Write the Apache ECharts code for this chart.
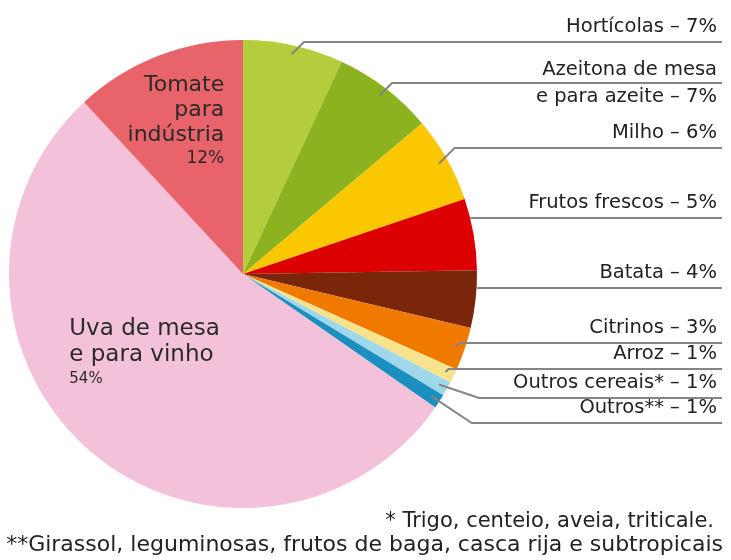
<!DOCTYPE html>
<html>
<head>
<meta charset="utf-8">
<script src="https://cdn.jsdelivr.net/npm/echarts@6/dist/echarts.min.js"></script>
<style>
  html, body { margin: 0; padding: 0; background: #fff; }
  #main { width: 731px; height: 560px; }
</style>
</head>
<body>
<div id="main"></div>
<script>
// culturas, pela ordem do gráfico (sentido horário a partir do topo)
var categories = ['Hortícolas', 'Azeitona de mesa e para azeite', 'Milho', 'Frutos frescos', 'Batata',
    'Citrinos', 'Arroz', 'Outros cereais*', 'Outros**', 'Uva de mesa e para vinho', 'Tomate para indústria'];
var values = [7, 7, 6, 5, 4, 3, 1, 1, 1, 54, 12];
var labelTexts = ['Hortícolas – 7%', 'Azeitona de mesa\ne para azeite – 7%', 'Milho – 6%', 'Frutos frescos – 5%',
    'Batata – 4%', 'Citrinos – 3%', 'Arroz – 1%', 'Outros cereais* – 1%', 'Outros** – 1%'];
var colors = ['#b4cd3c', '#8cb31f', '#fbc700', '#dc0000', '#7a260a', '#f07a00',
    '#f6e38c', '#9fd8ea', '#1b8fbf', '#f3c2da', '#e8646a'];
var notes = ['* Trigo, centeio, aveia, triticale.',
    '**Girassol, leguminosas, frutos de baga, casca rija e subtropicais'];

// layout das linhas de chamada
var lineY = [42, 83, 148, 218, 288, 343, 369, 398, 423];
var leaderTick = [1, 1, 1, 0, 0, 1, 1, 1, 1];
var CENTER = [243, 274];
var RADIUS = 234;
var RIGHT = 722;

var chart = echarts.init(document.getElementById('main'));

// fatias coloridas + rótulos interiores
var pieData = values.map(function (v, i) {
    var item = { name: categories[i], value: v, itemStyle: { color: colors[i] } };
    if (i === 9) {
        item.label = {
            show: true, position: 'inside', offset: [-10, -11],
            formatter: '{a|Uva de mesa}\n{a|e para vinho}\n{b|54%}',
            rich: {
                a: { fontFamily: 'DejaVu Sans', fontSize: 23, lineHeight: 26, color: '#2a2a2a', width: 170, align: 'left' },
                b: { fontFamily: 'DejaVu Sans', fontSize: 15, lineHeight: 24, color: '#2a2a2a', width: 170, align: 'left' }
            }
        };
    } else if (i === 10) {
        item.label = {
            show: true, position: 'inside', offset: [-30, -41],
            formatter: '{a|Tomate}\n{a|para}\n{a|indústria}\n{b|12%}',
            rich: {
                a: { fontFamily: 'DejaVu Sans', fontSize: 22, lineHeight: 25, color: '#2a2a2a', width: 110, align: 'right' },
                b: { fontFamily: 'DejaVu Sans', fontSize: 17, lineHeight: 21, color: '#2a2a2a', width: 110, align: 'right' }
            }
        };
    }
    return item;
});

// mesmas fatias, transparentes, por cima: rótulos exteriores e linhas de chamada
var calloutData = values.map(function (v, i) {
    var item = { name: categories[i], value: v };
    if (i < labelTexts.length) {
        item.label = { show: true, formatter: labelTexts[i] };
        item.labelLine = { show: true };
    } else {
        item.label = { show: false };
        item.labelLine = { show: false };
    }
    return item;
});

chart.setOption({
    animation: false,
    backgroundColor: '#fff',
    title: [{
        text: notes[0], right: 17, top: 511, padding: 0,
        textStyle: { fontFamily: 'DejaVu Sans', fontSize: 21, fontWeight: 'normal', color: '#222' }
    }, {
        text: notes[1], right: 8, top: 534, padding: 0,
        textStyle: { fontFamily: 'DejaVu Sans', fontSize: 22, fontWeight: 'normal', color: '#222' }
    }],
    series: [{
        type: 'pie',
        z: 2,
        center: CENTER,
        radius: RADIUS,
        startAngle: 90,
        clockwise: true,
        silent: true,
        label: { show: false },
        labelLine: { show: false },
        data: pieData
    }, {
        type: 'pie',
        z: 5,
        center: CENTER,
        radius: RADIUS,
        startAngle: 90,
        clockwise: true,
        silent: true,
        avoidLabelOverlap: false,
        itemStyle: { color: 'rgba(0,0,0,0)' },
        data: calloutData,
        label: {
            position: 'outside',
            fontFamily: 'DejaVu Sans',
            fontSize: 19.5,
            lineHeight: 27,
            color: '#222',
            opacity: 1
        },
        labelLine: {
            length: 10, length2: 10,
            lineStyle: { color: '#858585', width: 2, opacity: 1 }
        },
        labelLayout: function (params) {
            var i = params.dataIndex;
            if (i >= lineY.length || !params.labelLinePoints) return {};
            var ly = lineY[i];
            var p0, p1;
            if (leaderTick[i]) {
                // direção do ponto médio da fatia, a partir do centro
                var pt = params.labelLinePoints[0];
                var dx = pt[0] - CENTER[0], dy = pt[1] - CENTER[1];
                var len = Math.sqrt(dx * dx + dy * dy);
                p0 = [CENTER[0] + dx / len * (RADIUS - 9), CENTER[1] + dy / len * (RADIUS - 9)];
                var drop = ly - p0[1];
                p1 = [p0[0] + (drop > 0 ? 40 : Math.abs(drop)), ly];
            } else {
                var h = ly - CENTER[1];
                var ex = CENTER[0] + Math.sqrt(RADIUS * RADIUS - h * h);
                p0 = [ex, ly];
                p1 = [ex + 1, ly];
            }
            var twoLines = labelTexts[i].indexOf('\n') >= 0;
            return {
                x: RIGHT - 5,
                y: twoLines ? ly : ly - 15,
                align: 'right',
                verticalAlign: 'middle',
                labelLinePoints: [p0, p1, [RIGHT, ly]]
            };
        }
    }]
});
</script>
</body>
</html>
